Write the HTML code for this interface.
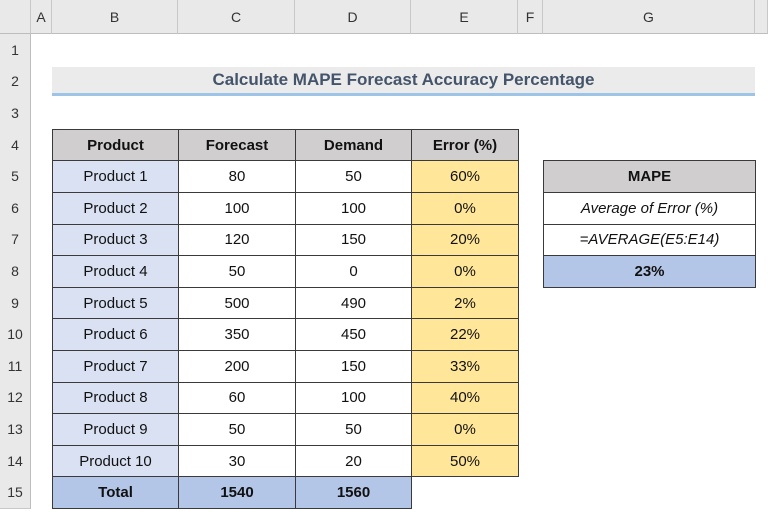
<!DOCTYPE html>
<html><head><meta charset="utf-8"><style>
body{margin:0;width:768px;height:516px;overflow:hidden;background:#fff;font-family:"Liberation Sans",sans-serif;position:relative}
.a{position:absolute;box-sizing:border-box;display:flex;align-items:center;justify-content:center}
.ch{top:0;height:34px;background:#e9e9e9;border-right:1px solid #c8c8c8;border-bottom:1px solid #bdbdbd;font-size:14px;color:#333}
.rh{left:0;width:31px;background:#e9e9e9;border-bottom:1px solid #c8c8c8;border-right:1px solid #bdbdbd;font-size:14px;color:#333}
.c{border:1px solid #3a3a3a;font-size:15px;color:#111}
.b{font-weight:bold}
</style></head><body>
<div id="sheet"></div>
<script>
const cols=[["",0,31],["A",31,52],["B",52,178],["C",178,295],["D",295,411],["E",411,518],["F",518,543],["G",543,755],["",755,768]];
const rowH=31.6,top0=34;
function add(cls,x,y,w,h,txt,style,name,inter){
 const d=document.createElement('div');d.className='a '+cls;
 d.style.left=x+'px';d.style.top=y+'px';d.style.width=w+'px';d.style.height=h+'px';
 if(style)d.style.cssText+=style;d.textContent=txt;
 
 
 document.body.appendChild(d);return d;}
cols.forEach(c=>{add('ch',c[1],0,c[2]-c[1],34,c[0],'',c[0]?'column-header-'+c[0].toLowerCase():'select-all',true);});
for(let r=1;r<=15;r++){add('rh',0,top0+(r-1)*rowH,31,rowH+1,String(r),'','row-header-'+r,true);}
const Y=r=>top0+(r-1)*rowH;
// title
add('',52,Y(2)+1,703,rowH-2,'Calculate MAPE Forecast Accuracy Percentage','background:#ebebeb;border-bottom:3px solid #9dc3e6;font-weight:bold;font-size:17px;color:#44546a','title',false);
const products=["Product 1","Product 2","Product 3","Product 4","Product 5","Product 6","Product 7","Product 8","Product 9","Product 10"];
const forecast=[80,100,120,50,500,350,200,60,50,30];
const demand=[50,100,150,0,490,450,150,100,50,20];
const errors=["60%","0%","20%","0%","2%","22%","33%","40%","0%","50%"];
const cx=[52,178,295,411,518];
const hdr=["Product","Forecast","Demand","Error (%)"];
hdr.forEach((h,i)=>add('c b',cx[i],Y(4),cx[i+1]-cx[i]+1,rowH+1,h,'background:#d0cece','header-'+h.toLowerCase().replace(/[^a-z]/g,''),false));
for(let i=0;i<10;i++){
 const y=Y(5+i);
 add('c',52,y,127,rowH+1,products[i],'background:#d9e1f2','product-cell',true);
 add('c',178,y,118,rowH+1,String(forecast[i]),'','forecast-cell',true);
 add('c',295,y,117,rowH+1,String(demand[i]),'','demand-cell',true);
 add('c',411,y,108,rowH+1,errors[i],'background:#ffe699','error-cell',true);
}
add('c b',52,Y(15),127,rowH+1,'Total','background:#b4c6e7','total-label',false);
add('c b',178,Y(15),118,rowH+1,'1540','background:#b4c6e7','total-forecast',true);
add('c b',295,Y(15),117,rowH+1,'1560','background:#b4c6e7','total-demand',true);
add('c b',543,Y(5),213,rowH+1,'MAPE','background:#d0cece','mape-header',false);
add('c',543,Y(6),213,rowH+1,'Average of Error (%)','font-style:italic','mape-description',true);
add('c',543,Y(7),213,rowH+1,'=AVERAGE(E5:E14)','font-style:italic','mape-formula',true);
add('c b',543,Y(8),213,rowH+1,'23%','background:#b4c6e7','mape-result',true);
</script>
</body></html>
